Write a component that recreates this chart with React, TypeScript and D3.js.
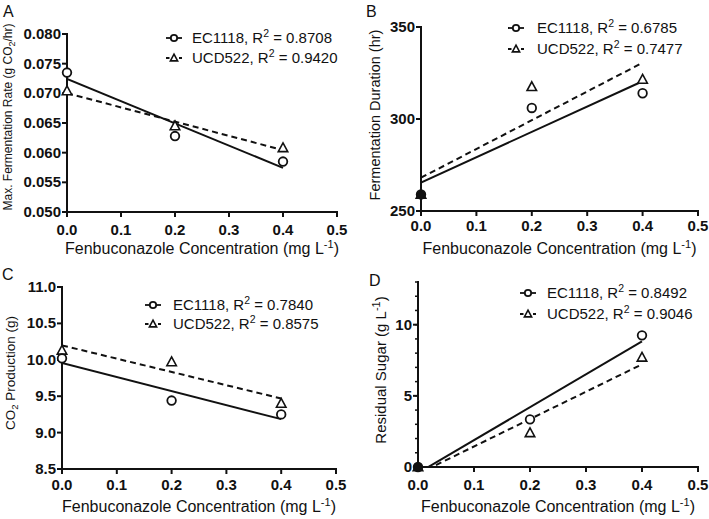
import React from "react";
import * as d3 from "d3";

const concentrations = [0, 0.2, 0.4];
const xTicks = [0, 0.1, 0.2, 0.3, 0.4, 0.5];

const rateEC1118 = [0.0735, 0.0628, 0.0585];
const rateUCD522 = [0.0704, 0.0645, 0.0608];
const durationEC1118 = [259, 306, 314];
const durationUCD522 = [259, 317.5, 321.5];
const co2EC1118 = [10.02, 9.44, 9.25];
const co2UCD522 = [10.13, 9.97, 9.4];
const sugarEC1118 = [0, 3.35, 9.25];
const sugarUCD522 = [0, 2.4, 7.7];

const seriesNames = ["EC1118", "UCD522"];
const r2A = ["0.8708", "0.9420"];
const r2B = ["0.6785", "0.7477"];
const r2C = ["0.7840", "0.8575"];
const r2D = ["0.8492", "0.9046"];

const ticksA = [0.05, 0.055, 0.06, 0.065, 0.07, 0.075, 0.08];
const ticksB = [250, 300, 350];
const ticksC = [8.5, 9.0, 9.5, 10.0, 10.5, 11.0];
const ticksD = [0, 5, 10];
const minorD = d3.range(0, 14, 1);

const FONT = "'Liberation Sans', Arial, Helvetica, sans-serif";

type PanelCfg = {
  id: string;
  letter: string;
  letterPos: [number, number];
  x0: number;
  x1: number;
  yTop: number;
  yBottom: number;
  domain: [number, number];
  ticks: number[];
  minor?: number[];
  fmt: (v: number) => string;
  ec: number[];
  ucd: number[];
  r2: string[];
  legend: { sx: number; tx: number; y1: number; y2: number };
  yTitle: React.ReactNode;
  yTitlePos: [number, number];
  yTitleSize: number;
  tickBase: number;
  titleBase: number;
};

function regression(xs: number[], ys: number[]) {
  const mx = d3.mean(xs) as number;
  const my = d3.mean(ys) as number;
  let num = 0;
  let den = 0;
  xs.forEach((x, i) => {
    num += (x - mx) * (ys[i] - my);
    den += (x - mx) * (x - mx);
  });
  const b = num / den;
  const a = my - b * mx;
  return (x: number) => a + b * x;
}

function Circle({ cx, cy, filled, r = 4.3 }: { cx: number; cy: number; filled?: boolean; r?: number }) {
  return (
    <circle cx={cx} cy={cy} r={r} fill={filled ? "#111" : "white"} stroke="#111" strokeWidth={1.8} />
  );
}

function Triangle({ cx, cy, s = 5 }: { cx: number; cy: number; s?: number }) {
  const p = `${cx},${cy - s} ${cx + s * 0.95},${cy + s * 0.75} ${cx - s * 0.95},${cy + s * 0.75}`;
  return <polygon points={p} fill="white" stroke="#111" strokeWidth={1.6} strokeLinejoin="miter" />;
}

function Panel({ c }: { c: PanelCfg }) {
  const x = d3.scaleLinear().domain([0, 0.5]).range([c.x0, c.x1]);
  const y = d3.scaleLinear().domain(c.domain).range([c.yBottom, c.yTop]);
  const fitEC = regression(concentrations, c.ec);
  const fitUCD = regression(concentrations, c.ucd);
  const fitPath = (f: (v: number) => number) =>
    d3
      .line<number>()
      .x((d) => x(d))
      .y((d) => y(f(d)))([0, 0.4]) as string;
  const clipId = `clip-${c.id}`;
  const legendRow = (i: number, yy: number) => (
    <g key={i}>
      <line
        x1={c.legend.sx}
        x2={c.legend.sx + 16}
        y1={yy}
        y2={yy}
        stroke="#111"
        strokeWidth={1.8}
        strokeDasharray={i === 1 ? "3.5,3" : undefined}
      />
      {i === 0 ? (
        <Circle cx={c.legend.sx + 8} cy={yy} r={3.2} />
      ) : (
        <Triangle cx={c.legend.sx + 8} cy={yy} s={3.8} />
      )}
      <text x={c.legend.tx} y={yy + 5} fontSize={15} fontFamily={FONT} fill="#111">
        {seriesNames[i]}, R<tspan dy={-6} fontSize={10.5}>2</tspan>
        <tspan dy={6}> = {c.r2[i]}</tspan>
      </text>
    </g>
  );
  return (
    <g>
      <defs>
        <clipPath id={clipId}>
          <rect x={c.x0} y={c.yTop - 5} width={c.x1 - c.x0 + 5} height={c.yBottom - c.yTop + 5} />
        </clipPath>
      </defs>
      <text x={c.letterPos[0]} y={c.letterPos[1]} fontSize={16} fontFamily={FONT} fill="#111">
        {c.letter}
      </text>
      {/* y axis */}
      <line x1={c.x0} x2={c.x0} y1={c.yTop - 1} y2={c.yBottom + 1} stroke="#111" strokeWidth={2} />
      {c.minor &&
        c.minor.map((t) => (
          <line key={`m${t}`} x1={c.x0 - 3} x2={c.x0} y1={y(t)} y2={y(t)} stroke="#111" strokeWidth={1.5} />
        ))}
      {c.ticks.map((t) => (
        <g key={`y${t}`}>
          <line x1={c.x0 - 5} x2={c.x0} y1={y(t)} y2={y(t)} stroke="#111" strokeWidth={2} />
          <text
            x={c.x0 - 6}
            y={y(t) + 5}
            textAnchor="end"
            fontSize={15}
            fontWeight="bold"
            fontFamily={FONT}
            fill="#111"
          >
            {c.fmt(t)}
          </text>
        </g>
      ))}
      {/* x axis */}
      <line x1={c.x0 - 1} x2={c.x1 + 1} y1={c.yBottom} y2={c.yBottom} stroke="#111" strokeWidth={2} />
      {xTicks.map((t) => (
        <g key={`x${t}`}>
          <line x1={x(t)} x2={x(t)} y1={c.yBottom} y2={c.yBottom + 5} stroke="#111" strokeWidth={2} />
          <text
            x={x(t)}
            y={c.tickBase}
            textAnchor="middle"
            fontSize={15}
            fontWeight="bold"
            fontFamily={FONT}
            fill="#111"
          >
            {t.toFixed(1)}
          </text>
        </g>
      ))}
      <text
        x={(c.x0 + c.x1) / 2}
        y={c.titleBase}
        textAnchor="middle"
        fontSize={16}
        fontFamily={FONT}
        fill="#111"
      >
        Fenbuconazole Concentration (mg L<tspan dy={-6} fontSize={11}>-1</tspan>
        <tspan dy={6}>)</tspan>
      </text>
      <text
        transform={`translate(${c.yTitlePos[0]},${c.yTitlePos[1]}) rotate(-90)`}
        textAnchor="middle"
        fontSize={c.yTitleSize}
        fontFamily={FONT}
        fill="#111"
      >
        {c.yTitle}
      </text>
      {/* fits */}
      <g clipPath={`url(#${clipId})`}>
        <path d={fitPath(fitEC)} stroke="#111" strokeWidth={2} fill="none" />
        <path d={fitPath(fitUCD)} stroke="#111" strokeWidth={2} fill="none" strokeDasharray="6,4" />
      </g>
      {/* points */}
      {concentrations.map((cx, i) => (
        <Triangle key={`t${i}`} cx={x(cx)} cy={y(c.ucd[i])} />
      ))}
      {concentrations.map((cx, i) => (
        <Circle key={`c${i}`} cx={x(cx)} cy={y(c.ec[i])} filled={c.ec[i] === c.ucd[i]} />
      ))}
      {legendRow(0, c.legend.y1)}
      {legendRow(1, c.legend.y2)}
    </g>
  );
}

const panels: PanelCfg[] = [
  {
    id: "A",
    letter: "A",
    letterPos: [3, 17],
    x0: 67,
    x1: 337,
    yTop: 34,
    yBottom: 212,
    domain: [0.05, 0.08],
    ticks: ticksA,
    fmt: (v) => v.toFixed(3),
    ec: rateEC1118,
    ucd: rateUCD522,
    r2: r2A,
    legend: { sx: 166, tx: 192, y1: 38, y2: 58 },
    yTitle: (
      <>
        Max. Fermentation Rate (g CO<tspan dy={3} fontSize={9}>2</tspan>
        <tspan dy={-3}>/hr)</tspan>
      </>
    ),
    yTitlePos: [12, 117],
    yTitleSize: 12,
    tickBase: 235,
    titleBase: 254,
  },
  {
    id: "B",
    letter: "B",
    letterPos: [366, 17],
    x0: 421,
    x1: 698,
    yTop: 27,
    yBottom: 211,
    domain: [250, 350],
    ticks: ticksB,
    fmt: (v) => String(v),
    ec: durationEC1118,
    ucd: durationUCD522,
    r2: r2B,
    legend: { sx: 508, tx: 537, y1: 28, y2: 49 },
    yTitle: <>Fermentation Duration (hr)</>,
    yTitlePos: [380, 115],
    yTitleSize: 14.5,
    tickBase: 231,
    titleBase: 254,
  },
  {
    id: "C",
    letter: "C",
    letterPos: [2, 280],
    x0: 62,
    x1: 336,
    yTop: 287,
    yBottom: 469,
    domain: [8.5, 11.0],
    ticks: ticksC,
    fmt: (v) => v.toFixed(1),
    ec: co2EC1118,
    ucd: co2UCD522,
    r2: r2C,
    legend: { sx: 145, tx: 173, y1: 305, y2: 324 },
    yTitle: (
      <>
        CO<tspan dy={3} fontSize={9.5}>2</tspan>
        <tspan dy={-3}> Production (g)</tspan>
      </>
    ),
    yTitlePos: [15, 373],
    yTitleSize: 13.5,
    tickBase: 490,
    titleBase: 512,
  },
  {
    id: "D",
    letter: "D",
    letterPos: [369, 286],
    x0: 418,
    x1: 698,
    yTop: 282,
    yBottom: 467,
    domain: [0, 13],
    ticks: ticksD,
    minor: minorD,
    fmt: (v) => String(v),
    ec: sugarEC1118,
    ucd: sugarUCD522,
    r2: r2D,
    legend: { sx: 520, tx: 547, y1: 293, y2: 314 },
    yTitle: (
      <>
        Residual Sugar (g L<tspan dy={-6} fontSize={11}>-1</tspan>
        <tspan dy={6}>)</tspan>
      </>
    ),
    yTitlePos: [386, 370],
    yTitleSize: 15,
    tickBase: 490,
    titleBase: 512,
  },
];

export default function App() {
  return (
    <svg
      width={709}
      height={519}
      style={{ position: "absolute", left: 0, top: 0, background: "white" }}
      viewBox="0 0 709 519"
    >
      <rect width={709} height={519} fill="white" />
      {panels.map((p) => (
        <Panel key={p.id} c={p} />
      ))}
    </svg>
  );
}
